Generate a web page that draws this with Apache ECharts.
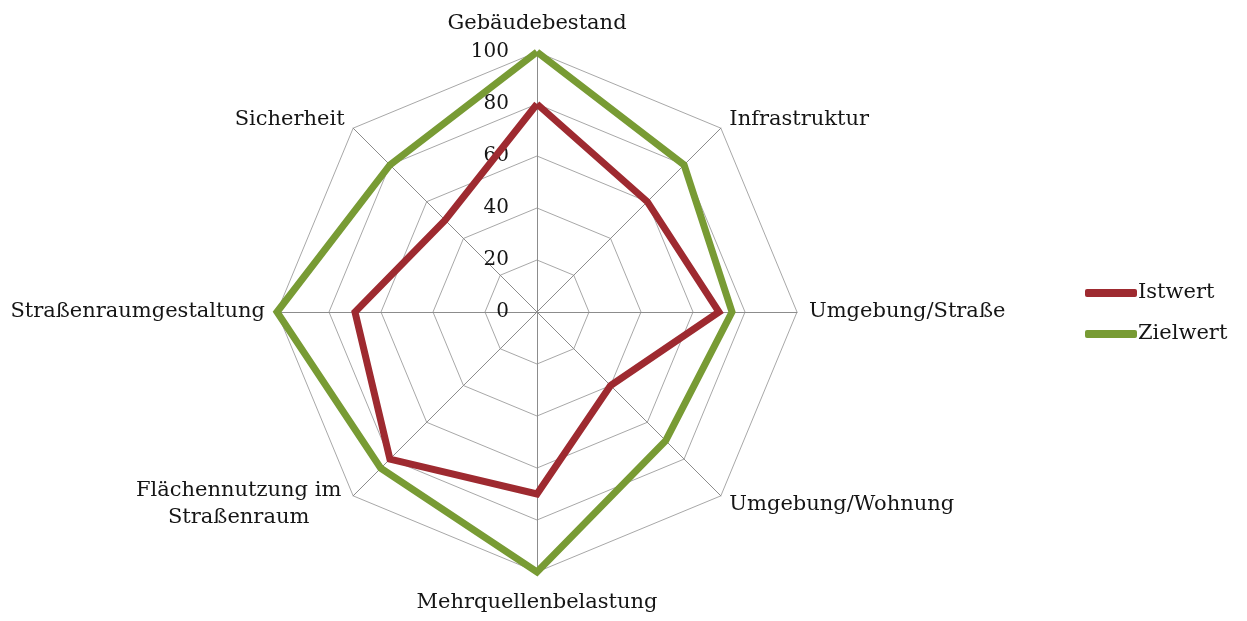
<!DOCTYPE html>
<html>
<head>
<meta charset="utf-8">
<script src="https://cdn.jsdelivr.net/npm/echarts@6/dist/echarts.min.js"></script>
<style>
  html, body { margin: 0; padding: 0; background: #fff; }
  #chart { width: 1247px; height: 621px; }
</style>
</head>
<body>
<div id="chart"></div>
<script>
// Kategorien im Uhrzeigersinn, beginnend oben
const categories = [
  'Gebäudebestand',
  'Infrastruktur',
  'Umgebung/Straße',
  'Umgebung/Wohnung',
  'Mehrquellenbelastung',
  'Flächennutzung im\nStraßenraum',
  'Straßenraumgestaltung',
  'Sicherheit'
];
const istwert  = [80, 60, 70, 40, 70, 80, 70, 50];
const zielwert = [100, 80, 75, 70, 100, 85, 100, 80];
const seriesNames = ['Istwert', 'Zielwert'];
const scaleMin = 0;
const scaleMax = 100;
const ringCount = 5;

const RED = '#9E2A30';
const GREEN = '#789B34';
const FONT = 'DejaVu Serif';
const TEXT = '#151515';

// ECharts legt die Radarachsen gegen den Uhrzeigersinn an:
// Reihenfolge so umstellen, dass die Kategorien im Uhrzeigersinn erscheinen.
const order = categories.map((_, i) => (i === 0 ? 0 : categories.length - i));
const pick = (arr) => order.map(i => arr[i]);

const chart = echarts.init(document.getElementById('chart'), null, { renderer: 'canvas' });

chart.setOption({
  animation: false,
  backgroundColor: '#ffffff',
  legend: {
    orient: 'vertical',
    left: 1080,
    top: 277,
    itemWidth: 52,
    itemHeight: 8,
    itemGap: 19,
    icon: 'roundRect',
    selectedMode: false,
    data: seriesNames,
    textStyle: { fontFamily: FONT, fontSize: 21, color: TEXT, lineHeight: 22, padding: [0, 0, 0, -4] }
  },
  radar: {
    center: [537, 312],
    radius: 260,
    startAngle: 90,
    shape: 'polygon',
    splitNumber: ringCount,
    nameGap: 12,
    indicator: pick(categories).map((name, i) => {
      const ind = { name: name, min: scaleMin, max: scaleMax, axisLabel: { show: i === 0 } };
      if (i === 0) ind.nameGap = 18;        // oben
      if (i === 4) ind.nameGap = 20;        // unten
      return ind;
    }),
    axisName: {
      color: TEXT,
      fontFamily: FONT,
      fontSize: 21,
      formatter: (v) => v.indexOf('\n') >= 0
        ? v.split('\n').map(s => '{c|' + s + '}').join('\n')
        : v,
      rich: {
        c: { width: 212, align: 'center', fontFamily: FONT, fontSize: 21, color: TEXT, lineHeight: 27 }
      }
    },
    splitLine: { lineStyle: { color: '#a8a8a8', width: 1 } },
    splitArea: { show: false },
    axisLine: { lineStyle: { color: '#8c8c8c', width: 1 } },
    axisTick: { show: false },
    axisLabel: { show: false, color: TEXT, fontFamily: FONT, fontSize: 20, margin: 28 }
  },
  series: [{
    type: 'radar',
    symbol: 'none',
    data: [
      {
        name: seriesNames[0],
        value: pick(istwert),
        lineStyle: { color: RED, width: 7, join: 'miter' },
        itemStyle: { color: RED }
      },
      {
        name: seriesNames[1],
        value: pick(zielwert),
        lineStyle: { color: GREEN, width: 7, join: 'miter' },
        itemStyle: { color: GREEN }
      }
    ]
  }]
});
</script>
</body>
</html>
